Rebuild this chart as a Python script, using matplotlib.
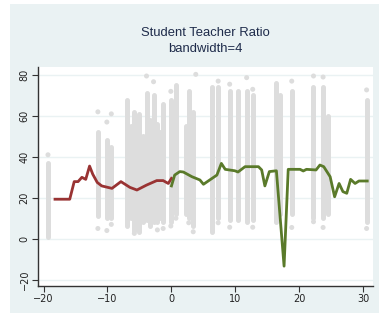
import matplotlib.pyplot as plt
from matplotlib.patches import Rectangle

# gray columns of observations: x position, dense low end, dense high end
col_x = [-19.3, -11.5, -10.1, -9.4, -7.0, -6.4, -5.8, -5.0, -4.4, -3.9, -3.3, -2.8, -2.2,
         -1.8, -1.3, -0.1, 0.7, 2.2, 2.7, 3.4, 6.3, 7.3, 9.1, 10.4, 11.75, 12.7,
         16.4, 17.0, 18.8, 22.2, 23.7, 24.4, 30.5]
col_lo = [1, 11, 10, 10, 6, 10, 4, 3.4, 8, 9, 6, 8, 8,
          10, 8, 8, 12, 12, 10, 6, 3.4, 10, 9, 9, 8.3, 9,
          8.3, 12, 12, 10, 10, 12, 8]
col_hi = [37, 52, 48, 45, 68, 55, 62, 61, 50, 71, 58, 70, 56,
          52, 66, 68, 75, 55, 72, 62, 74, 74, 72, 72, 72, 70,
          76, 70, 72, 74, 74, 60, 68]

# isolated observations
dot_x = [-19.3, -11.5, -11.5, -10.1, -10.1, -9.4, -9.4, -5.8, -3.9, -2.8, -2.2, -1.3,
         -0.1, -0.1, 0.7, 2.7, 3.8, 3.4, 7.3, 7.3, 9.1, 9.1, 11.75, 12.7, 12.7,
         18.8, 18.8, 22.2, 22.2, 23.7, 23.7, 30.5, 30.5]
dot_y = [41, 62, 5, 57, 4, 61, 7, 2.6, 79.5, 76.7, 4.3, 5,
         72, 6.2, 10, 7.8, 80.3, 3.4, 77, 7.8, 75.5, 5.6, 78.7, 73, 5.6,
         77, 5.5, 79.5, 8.3, 79, 5.5, 72.7, 5]

# local fit left of cutoff
red_x = [-18.2, -15.9, -15.2, -14.6, -14.0, -13.4, -12.8, -12.3, -11.6, -10.9, -9.3,
         -7.9, -6.5, -5.4, -3.9, -2.3, -1.3, -0.5, 0.0]
red_y = [19.3, 19.3, 27.9, 27.9, 30, 29, 35.5, 31.5, 27.5, 25.8, 24.6,
         27.9, 25.1, 23.8, 26.2, 28.4, 28.4, 27, 29.5]

# local fit right of cutoff
green_x = [0.0, 0.5, 1.3, 1.85, 3.2, 4.45, 5.0, 7.1, 7.8, 8.4, 9.9, 10.4, 11.5, 13.6,
           14.1, 14.6, 15.3, 16.4, 17.6, 18.25, 20.1, 20.6, 21.1, 22.6, 23.2, 23.8,
           24.8, 25.5, 26.2, 26.8, 27.4, 28.0, 28.7, 29.3, 30.6]
green_y = [25.8, 31.1, 32.8, 32.6, 30.3, 28.7, 26.6, 31.1, 36.8, 33.9, 33.2, 32.6, 35.2, 35.2,
           33.6, 25.8, 32.8, 33.2, -13.4, 33.9, 33.9, 33.1, 33.9, 33.6, 36, 35.2,
           30.3, 20.5, 27, 23, 22.2, 29, 27, 28.2, 28.2]

fig = plt.figure(figsize=(3.79, 3.14), dpi=100)
fig.patch.set_facecolor('white')
fig.patches.append(Rectangle((10 / 379, 1 / 314), 1 - 10 / 379, 309 / 314,
                             transform=fig.transFigure, facecolor='#eaf2f3',
                             edgecolor='none', zorder=-10))

ax = fig.add_axes([38 / 379, 28 / 314, 335 / 379, 219 / 314])
ax.set_facecolor('white')

gray = '#dddddd'
cols = ax.vlines(col_x, col_lo, col_hi, colors=gray, linewidth=3.6, zorder=2)
cols.set_capstyle('round')
ax.scatter(dot_x, dot_y, s=13, color=gray, edgecolors='none', zorder=2)

ax.plot(red_x, red_y, color='#993333', linewidth=2, zorder=3)
ax.plot(green_x, green_y, color='#5a7a2a', linewidth=2, zorder=3)

ax.set_xlim(-20.86, 31.5)
ax.set_ylim(-23.1, 83.9)
ax.set_xticks([-20, -10, 0, 10, 20, 30])
ax.set_yticks([-20, 0, 20, 40, 60, 80])
ax.grid(axis='y', color='#eaf2f3', linewidth=1, zorder=1)
ax.set_axisbelow(True)

for side in ['top', 'right']:
    ax.spines[side].set_visible(False)
for side in ['left', 'bottom']:
    ax.spines[side].set_color('#333333')
    ax.spines[side].set_linewidth(1)

ax.tick_params(axis='both', length=4, width=0.8, color='#333333',
               labelsize=7, labelcolor='#222222', pad=2)
for lbl in ax.get_yticklabels():
    lbl.set_rotation(90)
    lbl.set_va('center')

fig.text(205.5 / 379, 1 - 33 / 314, 'Student Teacher Ratio', ha='center', va='center',
         fontsize=9.4, color='#1e2b4a', family='Liberation Sans')
fig.text(205.5 / 379, 1 - 49 / 314, 'bandwidth=4', ha='center', va='center',
         fontsize=9.4, color='#1e2b4a', family='Liberation Sans')

fig.savefig('out.png', dpi=100)
